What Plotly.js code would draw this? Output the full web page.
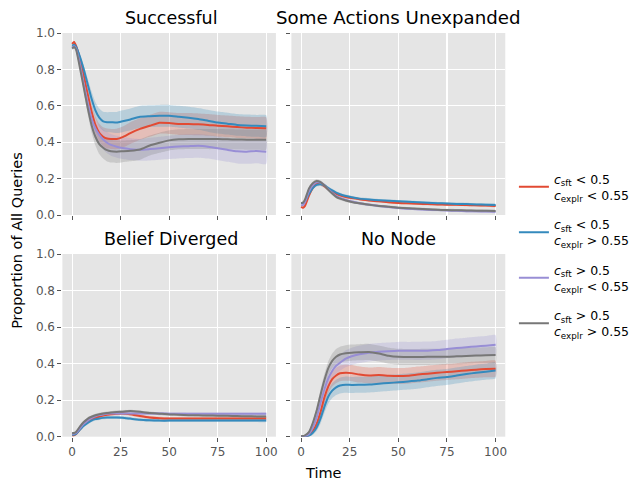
<!DOCTYPE html>
<html>
<head>
<meta charset="utf-8">
<script src="https://cdn.plot.ly/plotly-3.0.1.min.js"></script>
<style>html,body{margin:0;padding:0;background:#fff;}#chart{width:635px;height:484px;}</style>
</head>
<body>
<div id="chart"></div>
<script>
// ---------- data ----------
const TIME = [0,1,2,4,6,8,10,12,14,16,18,20,23,26,30,35,40,45,50,55,60,65,70,75,80,85,90,95,100];

const panelTitles = ["Successful", "Some Actions Unexpanded", "Belief Diverged", "No Node"];
const seriesNames = [
  "<i>c</i><sub>sft</sub> &lt; 0.5<br><i>c</i><sub>explr</sub> &lt; 0.55",
  "<i>c</i><sub>sft</sub> &lt; 0.5<br><i>c</i><sub>explr</sub> &gt; 0.55",
  "<i>c</i><sub>sft</sub> &gt; 0.5<br><i>c</i><sub>explr</sub> &lt; 0.55",
  "<i>c</i><sub>sft</sub> &gt; 0.5<br><i>c</i><sub>explr</sub> &gt; 0.55"
];

// Successful
const sucRed    = [0.94,0.95,0.93,0.86,0.765,0.665,0.57,0.495,0.452,0.43,0.42,0.418,0.418,0.428,0.45,0.473,0.49,0.507,0.505,0.5,0.5,0.498,0.495,0.49,0.487,0.483,0.48,0.478,0.477];
const sucBlue   = [0.93,0.935,0.925,0.87,0.80,0.72,0.64,0.575,0.535,0.515,0.51,0.51,0.508,0.515,0.525,0.54,0.543,0.545,0.545,0.54,0.535,0.528,0.518,0.508,0.502,0.495,0.492,0.49,0.488];
const sucPurple = [0.92,0.927,0.915,0.83,0.72,0.62,0.53,0.475,0.44,0.415,0.397,0.385,0.375,0.368,0.362,0.358,0.362,0.367,0.372,0.376,0.378,0.38,0.375,0.367,0.358,0.35,0.348,0.352,0.347];
const sucGray   = [0.915,0.923,0.91,0.81,0.70,0.59,0.495,0.43,0.39,0.37,0.356,0.35,0.348,0.35,0.353,0.36,0.382,0.397,0.41,0.416,0.418,0.418,0.417,0.417,0.416,0.415,0.414,0.413,0.413];
const sucRedCI    = [0.008,0.008,0.01,0.015,0.022,0.032,0.04,0.045,0.05,0.052,0.055,0.055,0.056,0.058,0.06,0.06,0.06,0.06,0.06,0.06,0.06,0.06,0.06,0.06,0.06,0.06,0.06,0.06,0.06];
const sucBlueCI   = [0.008,0.008,0.01,0.015,0.022,0.032,0.04,0.045,0.05,0.052,0.055,0.056,0.058,0.06,0.06,0.06,0.06,0.06,0.06,0.06,0.06,0.06,0.06,0.06,0.06,0.06,0.06,0.06,0.06];
const sucPurpleCI = [0.008,0.008,0.01,0.015,0.022,0.032,0.04,0.045,0.05,0.055,0.058,0.06,0.06,0.06,0.06,0.06,0.062,0.063,0.064,0.065,0.065,0.065,0.065,0.066,0.066,0.067,0.067,0.067,0.067];
const sucGrayCI   = [0.008,0.008,0.01,0.015,0.022,0.032,0.04,0.048,0.055,0.06,0.062,0.062,0.062,0.06,0.058,0.056,0.055,0.055,0.055,0.055,0.055,0.055,0.055,0.055,0.055,0.055,0.055,0.055,0.055];

// Some Actions Unexpanded
const unxRed    = [0.045,0.04,0.05,0.105,0.148,0.172,0.172,0.158,0.142,0.128,0.116,0.108,0.099,0.093,0.087,0.08,0.075,0.07,0.066,0.064,0.062,0.06,0.058,0.057,0.056,0.055,0.053,0.052,0.05];
const unxBlue   = [0.066,0.066,0.075,0.115,0.148,0.166,0.169,0.162,0.148,0.135,0.123,0.114,0.104,0.097,0.09,0.085,0.081,0.078,0.075,0.073,0.07,0.067,0.065,0.063,0.061,0.06,0.058,0.057,0.055];
const unxPurple = [0.053,0.055,0.07,0.13,0.165,0.18,0.178,0.163,0.142,0.122,0.105,0.094,0.083,0.074,0.065,0.057,0.05,0.044,0.038,0.034,0.031,0.029,0.027,0.025,0.023,0.021,0.02,0.019,0.018];
const unxGray   = [0.066,0.068,0.085,0.145,0.175,0.187,0.18,0.162,0.138,0.118,0.10,0.09,0.08,0.072,0.064,0.056,0.05,0.045,0.04,0.037,0.034,0.031,0.029,0.027,0.026,0.025,0.024,0.023,0.022];
const unxCI     = [0.006,0.006,0.007,0.008,0.009,0.01,0.01,0.01,0.009,0.009,0.008,0.008,0.008,0.008,0.007,0.007,0.007,0.007,0.007,0.007,0.007,0.007,0.007,0.007,0.007,0.007,0.007,0.007,0.007];

// Belief Diverged
const belRed    = [0.007,0.008,0.015,0.04,0.065,0.083,0.096,0.104,0.11,0.116,0.12,0.123,0.126,0.127,0.123,0.113,0.105,0.101,0.099,0.099,0.099,0.099,0.1,0.1,0.1,0.1,0.1,0.1,0.1];
const belBlue   = [0.011,0.011,0.015,0.038,0.06,0.075,0.088,0.096,0.10,0.103,0.105,0.105,0.105,0.104,0.099,0.093,0.09,0.088,0.088,0.088,0.088,0.088,0.088,0.088,0.088,0.088,0.088,0.088,0.088];
const belPurple = [0.016,0.016,0.02,0.045,0.07,0.088,0.102,0.112,0.118,0.122,0.125,0.127,0.127,0.127,0.127,0.127,0.127,0.127,0.126,0.126,0.125,0.125,0.125,0.125,0.125,0.125,0.125,0.125,0.125];
const belGray   = [0.02,0.02,0.026,0.055,0.08,0.098,0.109,0.117,0.123,0.127,0.13,0.132,0.135,0.137,0.14,0.136,0.13,0.126,0.122,0.12,0.118,0.117,0.116,0.115,0.114,0.113,0.112,0.111,0.11];
const belCI     = [0.004,0.004,0.005,0.006,0.007,0.008,0.008,0.008,0.008,0.008,0.008,0.008,0.008,0.008,0.008,0.008,0.008,0.008,0.008,0.008,0.008,0.008,0.008,0.008,0.008,0.008,0.008,0.008,0.008];

// No Node
const nnRed    = [0.001,0.001,0.002,0.008,0.03,0.07,0.135,0.215,0.275,0.315,0.335,0.347,0.35,0.348,0.34,0.335,0.338,0.334,0.332,0.334,0.34,0.345,0.35,0.354,0.358,0.363,0.367,0.37,0.372];
const nnBlue   = [0.001,0.001,0.002,0.006,0.022,0.051,0.10,0.165,0.22,0.252,0.27,0.28,0.285,0.283,0.284,0.286,0.29,0.294,0.298,0.302,0.307,0.315,0.322,0.327,0.335,0.343,0.35,0.356,0.362];
const nnPurple = [0.002,0.002,0.004,0.015,0.05,0.106,0.185,0.26,0.32,0.36,0.388,0.405,0.427,0.44,0.451,0.46,0.465,0.468,0.47,0.47,0.47,0.471,0.474,0.48,0.485,0.49,0.494,0.498,0.503];
const nnGray   = [0.004,0.004,0.008,0.025,0.075,0.143,0.23,0.31,0.375,0.415,0.438,0.45,0.457,0.46,0.462,0.464,0.455,0.443,0.437,0.436,0.436,0.437,0.438,0.438,0.44,0.442,0.444,0.446,0.447];
const nnCI       = [0.002,0.002,0.003,0.006,0.012,0.02,0.028,0.034,0.038,0.04,0.042,0.043,0.044,0.044,0.044,0.044,0.044,0.044,0.044,0.044,0.044,0.044,0.044,0.044,0.044,0.044,0.044,0.044,0.044];
const nnPurpleCI = [0.002,0.002,0.003,0.006,0.012,0.02,0.028,0.034,0.038,0.04,0.042,0.044,0.046,0.047,0.048,0.048,0.048,0.048,0.049,0.049,0.05,0.05,0.05,0.05,0.052,0.052,0.053,0.053,0.054];

// ---------- styling ----------
const COLORS = ["#E24A33", "#348ABD", "#988ED5", "#777777"];
const FILLS  = ["rgba(226,74,51,0.25)", "rgba(52,138,189,0.25)", "rgba(152,142,213,0.25)", "rgba(119,119,119,0.25)"];

const panels = [
  {series: [sucRed, sucBlue, sucPurple, sucGray], ci: [sucRedCI, sucBlueCI, sucPurpleCI, sucGrayCI]},
  {series: [unxRed, unxBlue, unxPurple, unxGray], ci: [unxCI, unxCI, unxCI, unxCI]},
  {series: [belRed, belBlue, belPurple, belGray], ci: [belCI, belCI, belCI, belCI]},
  {series: [nnRed, nnBlue, nnPurple, nnGray], ci: [nnCI, nnCI, nnPurpleCI, nnCI]}
];

const traces = [];
panels.forEach((p, pi) => {
  const xa = pi === 0 ? "x" : "x" + (pi + 1);
  const ya = pi === 0 ? "y" : "y" + (pi + 1);
  p.series.forEach((s, si) => {
    const ci = p.ci[si];
    const up = s.map((v, i) => v + ci[i]);
    const lo = s.map((v, i) => Math.max(0, v - ci[i]));
    traces.push({
      x: TIME.concat(TIME.slice().reverse()),
      y: up.concat(lo.slice().reverse()),
      xaxis: xa, yaxis: ya, type: "scatter", mode: "lines",
      fill: "toself", fillcolor: FILLS[si], line: {width: 0, color: "rgba(0,0,0,0)", shape: "spline", smoothing: 0.5},
      hoverinfo: "skip", showlegend: false
    });
  });
  p.series.forEach((s, si) => {
    traces.push({
      x: TIME, y: s, xaxis: xa, yaxis: ya, type: "scatter", mode: "lines",
      line: {color: COLORS[si], width: 2, shape: "spline", smoothing: 0.5},
      name: seriesNames[si], legendgroup: "g" + si, showlegend: pi === 0
    });
  });
});

const W = 635, H = 484;
const xd = [[62.9 / W, 278.1 / W], [293.7 / W, 509.3 / W]];
const yd = [[1 - 215 / H, 1 - 33 / H], [1 - 436.7 / H, 1 - 254 / H]];

function xaxis(col, showLabels, anchor) {
  return {
    domain: xd[col], range: [-5, 105], tickvals: [0, 25, 50, 75, 100],
    showticklabels: showLabels, ticks: "outside", ticklen: 4, tickwidth: 1, tickcolor: "#555555",
    tickfont: {family: "DejaVu Sans", size: 12, color: "#555555"},
    showgrid: true, gridcolor: "#FFFFFF", gridwidth: 1.1, zeroline: false, showline: false,
    anchor: anchor, fixedrange: true
  };
}
function yaxis(row, showLabels, anchor) {
  return {
    domain: yd[row], range: [0, 1], tickvals: [0, 0.2, 0.4, 0.6, 0.8, 1.0], tickformat: ".1f",
    showticklabels: showLabels, ticks: "outside", ticklen: 4, tickwidth: 1, tickcolor: "#555555",
    tickfont: {family: "DejaVu Sans", size: 12, color: "#555555"},
    showgrid: true, gridcolor: "#FFFFFF", gridwidth: 1.1, zeroline: false, showline: false,
    anchor: anchor, fixedrange: true
  };
}

const titleFont = {family: "DejaVu Sans", size: 17.5, color: "#000000"};
const annotations = [
  {text: panelTitles[0], x: (xd[0][0] + xd[0][1]) / 2 + 2 / W, y: 1 - 18 / H},
  {text: panelTitles[1], x: (xd[1][0] + xd[1][1]) / 2, y: 1 - 18 / H, size: 18.2},
  {text: panelTitles[2], x: (xd[0][0] + xd[0][1]) / 2 + 2 / W, y: 1 - 239 / H},
  {text: panelTitles[3], x: (xd[1][0] + xd[1][1]) / 2, y: 1 - 239 / H}
].map(a => {
  const f = Object.assign({}, titleFont, a.size ? {size: a.size} : {});
  delete a.size;
  return Object.assign(a, {xref: "paper", yref: "paper", xanchor: "center", yanchor: "middle", showarrow: false, font: f});
});

annotations.push({text: "Time", x: 326 / W, y: 1 - 473 / H, xref: "paper", yref: "paper",
  xanchor: "center", yanchor: "middle", showarrow: false, font: {family: "DejaVu Sans", size: 14.5, color: "#000"}});
annotations.push({text: "Proportion of All Queries", x: 17 / W, y: 1 - 240 / H, xref: "paper", yref: "paper",
  xanchor: "center", yanchor: "middle", textangle: -90, showarrow: false, font: {family: "DejaVu Sans", size: 14.5, color: "#000"}});

const layout = {
  width: W, height: H, margin: {l: 0, r: 0, t: 0, b: 0},
  paper_bgcolor: "#FFFFFF", plot_bgcolor: "#E5E5E5",
  font: {family: "DejaVu Sans", color: "#000"},
  xaxis: xaxis(0, false, "y"), yaxis: yaxis(0, true, "x"),
  xaxis2: xaxis(1, false, "y2"), yaxis2: yaxis(0, false, "x2"),
  xaxis3: xaxis(0, true, "y3"), yaxis3: yaxis(1, true, "x3"),
  xaxis4: xaxis(1, true, "y4"), yaxis4: yaxis(1, false, "x4"),
  showlegend: true,
  legend: {x: 518 / W, y: 1 - 255 / H, xanchor: "left", yanchor: "middle", bgcolor: "rgba(0,0,0,0)",
    font: {family: "DejaVu Sans", size: 12.5, color: "#000"}, tracegroupgap: 10},
  annotations: annotations
};

Plotly.newPlot("chart", traces, layout, {staticPlot: true, displayModeBar: false});
</script>
</body>
</html>
